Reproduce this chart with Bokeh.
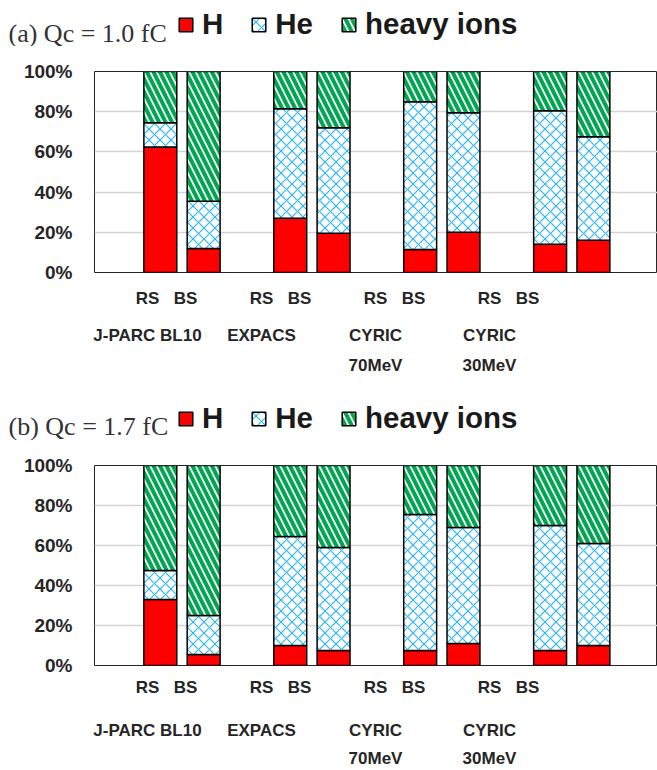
from bokeh.plotting import figure
from bokeh.models import (ColumnDataSource, Range1d, LinearAxis, FixedTicker,
                          PrintfTickFormatter, Label)
from bokeh.embed import file_html
from bokeh.resources import INLINE

# ---------------- data ----------------
groups_line1 = ["J-PARC BL10", "EXPACS", "CYRIC", "CYRIC"]
groups_line2 = ["", "", "70MeV", "30MeV"]
detectors = ["RS", "BS"]
species = ["H", "He", "heavy ions"]
y_ticks = [0, 20, 40, 60, 80, 100]

# panel (a)  Qc = 1.0 fC   (percent, bars ordered group by group: RS, BS)
H_a = [62.5, 12.0, 27.0, 19.5, 11.5, 20.0, 14.0, 16.0]
He_a = [12.0, 23.5, 54.5, 52.5, 73.5, 59.5, 66.5, 51.5]
heavy_a = [25.5, 64.5, 18.5, 28.0, 15.0, 20.5, 19.5, 32.5]

# panel (b)  Qc = 1.7 fC
H_b = [33.0, 5.5, 10.0, 7.5, 7.5, 11.0, 7.5, 10.0]
He_b = [14.5, 19.5, 54.5, 51.5, 68.0, 58.0, 62.5, 51.0]
heavy_b = [52.5, 75.0, 35.5, 41.0, 24.5, 31.0, 30.0, 39.0]

titles = ["(a) Qc = 1.0 fC", "(b) Qc = 1.7 fC"]

# ---------------- styles ----------------
RED = "#FF0000"
BLUE = "#2BB6F2"
GREEN = "#00A651"
TXT = "#262626"
SANS = "Liberation Sans"
SERIF = "Liberation Serif"

STEP = 3  # axis units between groups
BAR_STYLE = dict(fill_color=[RED, "white", "white"], line_color="black", line_width=1.5,
                 hatch_pattern=["blank", "diagonal_cross", "left_diagonal_line"],
                 hatch_color=[RED, BLUE, GREEN], hatch_weight=[1, 1.2, 4],
                 hatch_scale=[12, 11, 13])
STACK = ["H", "He", "heavy"]


def make_source(H, He, heavy):
    xs = [STEP * g + s for g in range(len(groups_line1)) for s in range(len(detectors))]
    return ColumnDataSource(dict(x=xs, H=H, He=He, heavy=heavy))


def make_header(title, src, title_y):
    """Title and legend row of one panel; its stacked renderers share the panel's
    data but are hidden, so only their legend swatches show."""
    h = figure(width=657, height=46, output_backend="svg", toolbar_location=None,
               x_range=Range1d(-1.52, 11.48), y_range=Range1d(-1000, -999),
               x_axis_location=None, y_axis_location=None, min_border=0,
               min_border_left=0, min_border_right=0, min_border_top=0, min_border_bottom=0,
               outline_line_color=None)
    h.grid.visible = False
    rs = h.vbar_stack(STACK, x="x", width=0.76, source=src, legend_label=species, **BAR_STYLE)
    for r in rs:
        r.visible = False
    lg = h.legend[0]
    lg.orientation = "horizontal"
    lg.location = (177, 5)
    lg.padding = 0
    lg.margin = 0
    lg.spacing = 27
    lg.label_standoff = 8
    lg.glyph_width = 17
    lg.glyph_height = 17
    lg.label_text_font = SANS
    lg.label_text_font_style = "bold"
    lg.label_text_font_size = "29.5px"
    lg.label_text_color = "#1A1A1A"
    lg.border_line_color = None
    lg.background_fill_alpha = 0
    lg.inactive_fill_alpha = 0
    h.add_layout(Label(x=8, y=title_y, x_units="screen", y_units="screen", text=title,
                       text_font=SERIF, text_font_size="26px", text_color="#333333",
                       text_baseline="alphabetic"))
    return h


def make_panel(src, height, mb_bottom, s1, s2, s3):
    xs = list(src.data["x"])
    p = figure(width=657, height=height, output_backend="svg", toolbar_location=None,
               x_range=Range1d(-1.52, 11.48), y_range=Range1d(0, 100),
               x_axis_location=None, min_border_left=94, min_border_right=0,
               min_border_top=25, min_border_bottom=mb_bottom)
    p.extra_x_ranges = {"lab": Range1d(-1.395, 13.42)}
    p.xgrid.visible = False

    p.vbar_stack(STACK, x="x", width=0.76, source=src, **BAR_STYLE)

    # y axis
    ya = p.yaxis[0]
    ya.ticker = FixedTicker(ticks=y_ticks)
    ya.formatter = PrintfTickFormatter(format="%d%%")
    ya.major_tick_line_color = None
    ya.major_tick_out = 0
    ya.major_tick_in = 0
    ya.minor_tick_line_color = None
    ya.axis_line_color = None
    ya.major_label_standoff = 22
    ya.major_label_text_font = SANS
    ya.major_label_text_font_style = "bold"
    ya.major_label_text_font_size = "19px"
    ya.major_label_text_color = TXT

    p.ygrid.ticker = FixedTicker(ticks=y_ticks)
    p.ygrid.grid_line_color = "#D4D4D4"
    p.ygrid.grid_line_width = 1.5
    p.outline_line_color = TXT
    p.outline_line_width = 1

    # x axes (detector row, group rows)
    det_labels = {x: detectors[i % 2] for i, x in enumerate(xs)}
    gpos = [STEP * g for g in range(len(groups_line1))]
    rows = [
        (xs, det_labels, s1),
        (gpos, {x: t for x, t in zip(gpos, groups_line1)}, s2),
        (gpos, {x: t for x, t in zip(gpos, groups_line2)}, s3),
    ]
    for ticks, labels, st in rows:
        ax = LinearAxis(x_range_name="lab", ticker=FixedTicker(ticks=ticks),
                        major_label_overrides=labels)
        ax.major_tick_line_color = None
        ax.major_tick_out = 0
        ax.major_tick_in = 0
        ax.minor_tick_line_color = None
        ax.axis_line_color = None
        ax.major_label_standoff = st
        ax.major_label_text_font = SANS
        ax.major_label_text_font_style = "bold"
        ax.major_label_text_font_size = "17px"
        ax.major_label_text_color = TXT
        p.add_layout(ax, "below")
    return p


src_a = make_source(H_a, He_a, heavy_a)
src_b = make_source(H_b, He_b, heavy_b)
h1 = make_header(titles[0], src_a, 13)
p1 = make_panel(src_a, 348, 122, 16, 15, 8)
h2 = make_header(titles[1], src_b, 14)
p2 = make_panel(src_b, 330, 104, 12, 21, 6)

# separate roots, stacked top to bottom (keeps each header's frame at x = 0)
open("out.html", "w").write(file_html([h1, p1, h2, p2], INLINE))
